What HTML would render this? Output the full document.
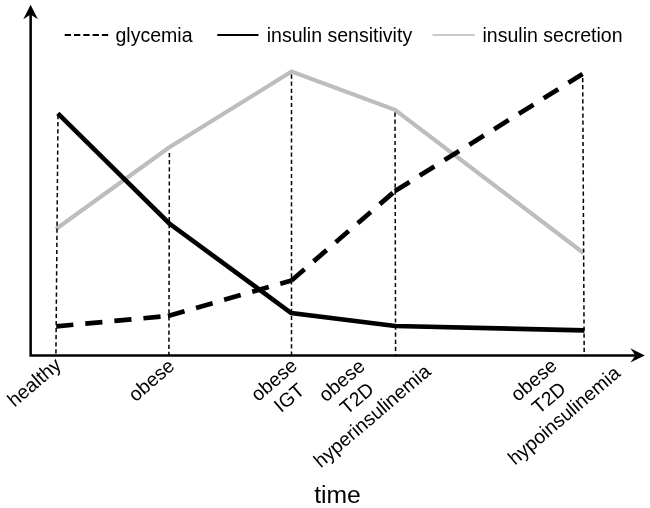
<!DOCTYPE html>
<html><head><meta charset="utf-8">
<style>
html,body{margin:0;padding:0;background:#fff;}
svg{display:block;will-change:transform;}
text{font-family:"Liberation Sans",sans-serif;fill:#000;}
</style></head><body>
<svg width="650" height="508" viewBox="0 0 650 508" xmlns="http://www.w3.org/2000/svg">
<rect width="650" height="508" fill="#fff"/>
<!-- gray line -->
<polyline points="56,229 169.4,147.3 291.6,71.5 395,109.8 583.5,253" fill="none" stroke="#bdbdbd" stroke-width="4.1" stroke-linejoin="miter"/>
<!-- dotted verticals -->
<g stroke="#000" stroke-width="1.5" stroke-dasharray="4.2 2.9" fill="none">
<line x1="58" y1="115" x2="55.9" y2="356.5"/>
<line x1="169.4" y1="153" x2="168.9" y2="356.5"/>
<line x1="291.5" y1="74.5" x2="291.5" y2="356.5"/>
<line x1="395" y1="112.5" x2="395.6" y2="356.5"/>
<line x1="582.7" y1="78" x2="584.2" y2="356.5"/>
</g>
<!-- dashed -->
<g fill="none" stroke="#000" stroke-width="4.7" stroke-dasharray="17.2 12">
<line x1="56.2" y1="326.3" x2="168" y2="316"/>
<line x1="168" y1="316" x2="291.5" y2="280.5"/>
<line x1="291.5" y1="280.5" x2="395" y2="191"/>
<line x1="395" y1="191" x2="582.6" y2="74"/>
</g>
<!-- black solid -->
<polyline points="57.8,113.3 169.3,223.5 291.2,313 395.2,326 584.4,330.4" fill="none" stroke="#000" stroke-width="4.6"/>
<!-- axes -->
<path d="M30.65 14 V355.4 H636" fill="none" stroke="#000" stroke-width="2.5"/>
<path d="M30.6 4.7 L37.9 19.3 L30.6 14.4 L23.3 19.3 Z" fill="#000"/>
<path d="M644.8 355.4 L630.4 348.2 L635.4 355.4 L630.4 362.6 Z" fill="#000"/>
<!-- legend -->
<line x1="64.7" y1="35" x2="108.2" y2="35" stroke="#000" stroke-width="1.8" stroke-dasharray="6.3 3"/>
<line x1="217.3" y1="35" x2="258.5" y2="35" stroke="#000" stroke-width="1.8"/>
<line x1="432.5" y1="35" x2="474.8" y2="35" stroke="#b8b8b8" stroke-width="1.4"/>
<text x="115.5" y="42.3" font-size="19.55">glycemia</text>
<text x="266.7" y="42.3" font-size="19.55">insulin sensitivity</text>
<text x="482.5" y="42.3" font-size="19.55">insulin secretion</text>
<!-- x labels -->
<g font-size="19.5" text-anchor="middle">
<g transform="translate(38.5,387.3) rotate(-40.5)"><text>healthy</text></g>
<g transform="translate(155.6,385.2) rotate(-40.5)"><text>obese</text></g>
<g transform="translate(278.3,385) rotate(-40.5)"><text>obese</text><text y="23.3">IGT</text></g>
<g transform="translate(346,385.5) rotate(-40.5)"><text>obese</text><text y="23.3">T2D</text><text y="46.6">hyperinsulinemia</text></g>
<g transform="translate(538,385) rotate(-40.5)"><text>obese</text><text y="23.3">T2D</text><text y="46.6">hypoinsulinemia</text></g>
</g>
<text x="337.5" y="503" font-size="24.7" text-anchor="middle">time</text>
</svg>
</body></html>
